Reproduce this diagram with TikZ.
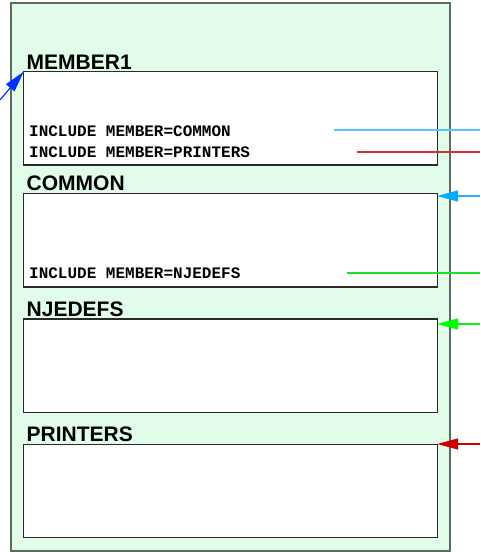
\documentclass[tikz,border=0pt]{standalone}
\usepackage{fontspec}
\setmainfont{Liberation Sans}
\newfontfamily\monofont{Liberation Mono}
\usetikzlibrary{arrows.meta}
\definecolor{framefill}{HTML}{E1FDE9}
\definecolor{framedraw}{HTML}{5E6B60}
\definecolor{boxdraw}{HTML}{2A2A2A}
\definecolor{incblue}{HTML}{55C6F5}
\definecolor{cyanarrow}{HTML}{00AAFF}
\definecolor{incred}{HTML}{CC3333}
\definecolor{redarrow}{HTML}{CC0000}
\definecolor{incgreen}{HTML}{22DD22}
\definecolor{greenarrow}{HTML}{00FF00}
\definecolor{bluearrow}{HTML}{0033FF}
\tikzset{
  frame/.style={draw=framedraw, fill=framefill, line width=1.5pt, inner sep=0pt, outer sep=0pt, anchor=north west, minimum width=439pt, minimum height=548pt},
  memberbox/.style={draw=boxdraw, fill=white, line width=1.2pt, inner sep=0pt, outer sep=0pt, anchor=north west, minimum width=413.5pt, minimum height=93.3pt},
  title/.style={font=\fontsize{21}{24}\selectfont\bfseries, inner sep=0pt, anchor=base west},
  code/.style={font=\fontsize{16}{18}\selectfont\monofont\bfseries, inner sep=0pt, anchor=base west},
  tip/.style={-{Triangle[length=21pt,width=11pt]}},
  incline/.style={line width=1.4pt},
}
\begin{document}
\begin{tikzpicture}[x=1pt,y=-1pt]
\useasboundingbox (0,0) rectangle (480,552);
\node[frame] (frame) at (11,3) {};
\node[memberbox] (m1) at (23.7,71.7) {};
\node[memberbox] (common) at (23.7,193.7) {};
\node[memberbox] (nje) at (23.7,319) {};
\node[memberbox] (prt) at (23.7,444.2) {};
\node[title] (t1) at (26.5,69) {MEMBER1};
\node[title] (t2) at (26.5,190.7) {COMMON};
\node[title] (t3) at (26.5,316.2) {NJEDEFS};
\node[title] (t4) at (26.5,441.5) {PRINTERS};
\node[code] (c1) at (29,136) {INCLUDE MEMBER=COMMON};
\node[code] (c2) at (29,157) {INCLUDE MEMBER=PRINTERS};
\node[code] (c3) at (29,278) {INCLUDE MEMBER=NJEDEFS};
% line ends
\coordinate (l1a) at (334,130);
\coordinate (l1b) at (480,130);
\coordinate (l2a) at (357,152);
\coordinate (l2b) at (480,152);
\coordinate (l3a) at (347,273);
\coordinate (l3b) at (480,273);
\coordinate (a1) at (480,196);
\coordinate (a2) at (480,324);
\coordinate (a3) at (480,444);
\coordinate (a0) at (0,100);
\draw[incblue, incline] (l1a) -- (l1b);
\draw[incred, incline] (l2a) -- (l2b);
\draw[incgreen, incline] (l3a) -- (l3b);
\draw[cyanarrow!60!incblue, incline, -{Triangle[length=21pt,width=11pt,color=cyanarrow]}] (a1) -- ([yshift=-2.3pt]common.north east);
\draw[incgreen!50!greenarrow, incline, -{Triangle[length=21pt,width=11pt,color=greenarrow]}] (a2) -- ([yshift=-5pt]nje.north east);
\draw[redarrow, incline, tip] (a3) -- ([yshift=0.2pt]prt.north east);
\draw[bluearrow, line width=1.2pt, tip] (a0) -- (m1.north west);
\end{tikzpicture}
\end{document}
